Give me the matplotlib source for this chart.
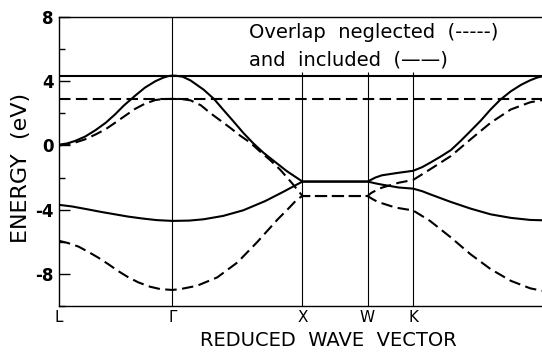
import matplotlib
matplotlib.use('Agg')
import matplotlib.pyplot as plt
from matplotlib.ticker import MultipleLocator

plt.rcParams['axes.unicode_minus'] = False
plt.rcParams['font.family'] = 'DejaVu Sans'

# symmetry points along the path (units of 2*pi/a)
sym_k = [0.0, 0.87, 1.87, 2.37, 2.72]
sym_labels = ['L', 'Γ', 'X', 'W', 'K']
k_end = 3.71

# flat bands
flat_included = 4.35
flat_neglected = 2.90

# overlap included (solid)
inc_upper_k = [0, 0.06, 0.12, 0.20, 0.28, 0.36, 0.43, 0.50, 0.585, 0.66, 0.74, 0.80, 0.84, 0.87,
               0.90, 0.95, 1.01, 1.11, 1.19, 1.26, 1.34, 1.415, 1.49, 1.57, 1.64, 1.75, 1.87,
               2.37, 2.43, 2.48, 2.61, 2.72,
               2.79, 2.85, 2.93, 3.01, 3.085, 3.16, 3.24, 3.315, 3.39, 3.47, 3.55, 3.62, 3.67, 3.71]
inc_upper_e = [0.05, 0.12, 0.27, 0.55, 0.95, 1.42, 1.93, 2.50, 3.10, 3.60, 4.00, 4.22, 4.32, 4.35,
               4.34, 4.28, 4.05, 3.48, 2.90, 2.24, 1.50, 0.79, 0.15, -0.45, -0.90, -1.60, -2.25,
               -2.25, -2.00, -1.86, -1.70, -1.58,
               -1.35, -1.08, -0.70, -0.29, 0.28, 0.89, 1.55, 2.24, 2.85, 3.37, 3.78, 4.06, 4.22, 4.30]

inc_lower_k = [0, 0.10, 0.22, 0.33, 0.43, 0.53, 0.64, 0.75, 0.87,
               1.00, 1.11, 1.26, 1.415, 1.585, 1.72, 1.87,
               2.37, 2.43, 2.48, 2.61, 2.72,
               2.79, 2.85, 3.01, 3.16, 3.315, 3.47, 3.62, 3.71]
inc_lower_e = [-3.70, -3.80, -3.98, -4.15, -4.29, -4.43, -4.55, -4.65, -4.70,
               -4.68, -4.60, -4.39, -4.04, -3.46, -2.90, -2.25,
               -2.25, -2.36, -2.44, -2.62, -2.69,
               -2.85, -3.04, -3.52, -3.93, -4.29, -4.51, -4.64, -4.66]

# overlap neglected (dashed)
neg_upper_k = [0, 0.06, 0.12, 0.20, 0.28, 0.36, 0.43, 0.51, 0.585, 0.66, 0.74, 0.80, 0.87,
               0.95, 1.01, 1.09, 1.16, 1.24, 1.315, 1.39, 1.47, 1.54, 1.62, 1.70, 1.79, 1.87,
               2.37, 2.40, 2.44, 2.48, 2.61, 2.72,
               2.85, 3.01, 3.16, 3.315, 3.47, 3.62, 3.71]
neg_upper_e = [0.00, 0.06, 0.17, 0.38, 0.68, 1.02, 1.41, 1.86, 2.28, 2.60, 2.83, 2.89, 2.90,
               2.88, 2.81, 2.50, 2.03, 1.55, 1.10, 0.62, 0.17, -0.35, -0.90, -1.52, -2.35, -3.15,
               -3.15, -2.95, -2.78, -2.63, -2.32, -2.15,
               -1.49, -0.66, 0.37, 1.41, 2.24, 2.69, 2.82]

neg_lower_k = [0, 0.07, 0.15, 0.23, 0.30, 0.38, 0.45, 0.53, 0.61, 0.70, 0.78, 0.87,
               0.93, 1.06, 1.215, 1.37, 1.52, 1.68, 1.76, 1.83, 1.87,
               2.37, 2.41, 2.45, 2.585, 2.72,
               2.85, 3.01, 3.16, 3.315, 3.47, 3.62, 3.71]
neg_lower_e = [-5.94, -6.08, -6.30, -6.65, -6.98, -7.40, -7.80, -8.20, -8.53, -8.80, -8.95, -9.00,
               -8.95, -8.74, -8.22, -7.29, -6.04, -4.60, -3.95, -3.35, -3.15,
               -3.15, -3.35, -3.52, -3.87, -4.05,
               -4.70, -5.73, -6.77, -7.70, -8.43, -8.90, -9.05]


fig = plt.figure(figsize=(5.42, 3.52), dpi=100)
ax = fig.add_axes([59/542, 1 - 306/352, (542 - 59)/542, (306 - 17)/352])

lw = 1.5
dash = (5.5, 2.6)

ax.axhline(flat_included, color='black', lw=lw)
ax.axhline(flat_neglected, color='black', lw=lw, dashes=dash)

ax.plot(inc_upper_k, inc_upper_e, color='black', lw=lw)
ax.plot(inc_lower_k, inc_lower_e, color='black', lw=lw)
ax.plot(neg_upper_k, neg_upper_e, color='black', lw=lw, dashes=dash)
ax.plot(neg_lower_k, neg_lower_e, color='black', lw=lw, dashes=dash)

# vertical lines at the symmetry points
ax.axvline(sym_k[1], color='black', lw=0.8)
ax.vlines(sym_k[2:], -10, 4.55, color='black', lw=0.8)

ax.set_xlim(0, k_end)
ax.set_ylim(-10, 8)
ax.set_xticks(sym_k)
ax.set_xticklabels(sym_labels, fontsize=11)
ax.tick_params(axis='x', length=0, pad=3)

ax.yaxis.set_major_locator(MultipleLocator(4))
ax.yaxis.set_minor_locator(MultipleLocator(2))
ax.tick_params(axis='y', which='major', direction='in', length=8, width=1, labelsize=12, pad=4)
ax.tick_params(axis='y', which='minor', direction='in', length=4, width=1)
for lab in ax.get_yticklabels():
    lab.set_fontweight('bold')

ax.spines['right'].set_visible(False)
for s in ['left', 'top', 'bottom']:
    ax.spines[s].set_linewidth(1.0)

ax.set_ylabel('ENERGY  (eV)', fontsize=16)
ax.yaxis.set_label_coords(-0.058, 0.477)
ax.set_xlabel('REDUCED  WAVE  VECTOR', fontsize=14)
ax.xaxis.set_label_coords(0.557, -0.085)

ax.text(1.46, 7.02, 'Overlap  neglected  (-----)', fontsize=14, ha='left', va='center')
ax.text(1.46, 5.34, 'and  included  (——)', fontsize=14, ha='left', va='center')

fig.savefig('out.png', dpi=100)
